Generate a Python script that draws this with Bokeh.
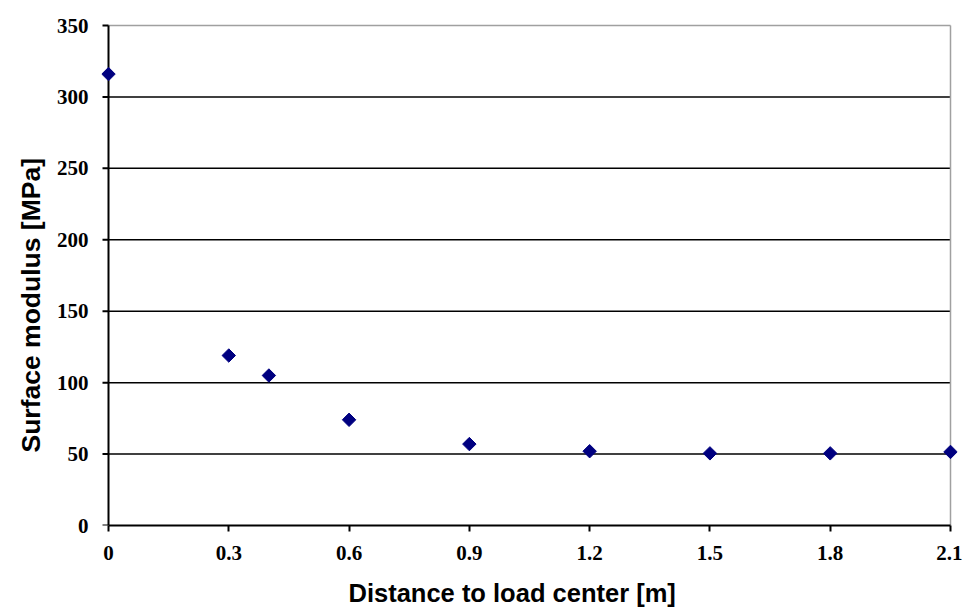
import math
from bokeh.plotting import figure
from bokeh.models import FixedTicker, Range1d, Title
from bokeh.embed import file_html
from bokeh.resources import INLINE

distance = [0.0, 0.3, 0.4, 0.6, 0.9, 1.2, 1.5, 1.8, 2.1]
modulus = [316, 119, 105, 74, 57, 52, 50.5, 50.5, 51.5]
x_ticks = [0, 0.3, 0.6, 0.9, 1.2, 1.5, 1.8, 2.1]
y_ticks = [0, 50, 100, 150, 200, 250, 300, 350]
grid_values = y_ticks[1:-1]
x_title = "Distance to load center [m]"
y_title = "Surface modulus [MPa]"

x_min, x_max = x_ticks[0], x_ticks[-1]
y_min, y_max = y_ticks[0], y_ticks[-1]

# a little room around the data area so edge markers are not cut by the frame
inner_w, inner_h = 842, 500
pad_px, pad_top_px = 7, 3
pad = (x_max - x_min) * pad_px / inner_w
pad_top = (y_max - y_min) * pad_top_px / inner_h

p = figure(width=962, height=608, output_backend="svg", toolbar_location=None,
           x_range=Range1d(x_min - pad, x_max + pad),
           y_range=Range1d(y_min, y_max + pad_top),
           min_border_left=108 - pad_px, min_border_top=25 - pad_top_px,
           min_border_right=5, min_border_bottom=83)
p.frame_width = inner_w + 2 * pad_px
p.frame_height = inner_h + pad_top_px
p.outline_line_color = None
p.xgrid.visible = False
p.ygrid.visible = False

# horizontal grid lines between the axes
p.segment(x0=[x_min] * len(grid_values), x1=[x_max] * len(grid_values),
          y0=grid_values, y1=grid_values, line_color="black", line_width=1.5)
# grey plot-area border (top and right)
p.segment(x0=[x_min, x_max], x1=[x_max, x_max], y0=[y_max, y_min], y1=[y_max, y_max],
          line_color="#a0a0a0", line_width=1.5)
# vertical axis line at x = 0 with outward ticks
p.segment(x0=[x_min], x1=[x_min], y0=[y_min], y1=[y_max], line_color="black", line_width=2)
p.ray(x=[x_min] * len(y_ticks), y=y_ticks, length=6, length_units="screen",
      angle=math.pi, line_color="black", line_width=2)

p.scatter(distance, modulus, marker="square", size=9.5, angle=math.pi / 4,
          color="#000080")

p.xaxis.ticker = FixedTicker(ticks=x_ticks)
p.yaxis.ticker = FixedTicker(ticks=y_ticks)
p.xaxis.bounds = (x_min, x_max)
p.xaxis.major_label_overrides = {0: "0"}

for ax in (p.xaxis, p.yaxis):
    ax.axis_line_color = "black"
    ax.axis_line_width = 2
    ax.major_tick_line_color = "black"
    ax.major_tick_line_width = 2
    ax.major_tick_in = 0
    ax.major_tick_out = 6
    ax.minor_tick_line_color = None
    ax.major_label_text_font = "Liberation Serif"
    ax.major_label_text_font_style = "bold"
    ax.major_label_text_font_size = "21px"
    ax.major_label_text_color = "black"

# the y axis only carries labels; its line and ticks are drawn at x = 0 above
p.yaxis.axis_line_color = None
p.yaxis.major_tick_line_color = None
p.yaxis.major_tick_out = 0
p.xaxis.major_label_standoff = 14
p.yaxis.major_label_standoff = 13

# axis titles as side titles so they can be shifted like the original
p.add_layout(Title(text=x_title, align="left", offset=247, standoff=28,
                   text_font="Liberation Sans", text_font_style="bold",
                   text_font_size="25.5px", text_color="black"), "below")
p.add_layout(Title(text=y_title, align="left", offset=73, standoff=16,
                   text_font="Liberation Sans", text_font_style="bold",
                   text_font_size="26.5px", text_color="black"), "left")

open("out.html", "w").write(file_html(p, INLINE))
